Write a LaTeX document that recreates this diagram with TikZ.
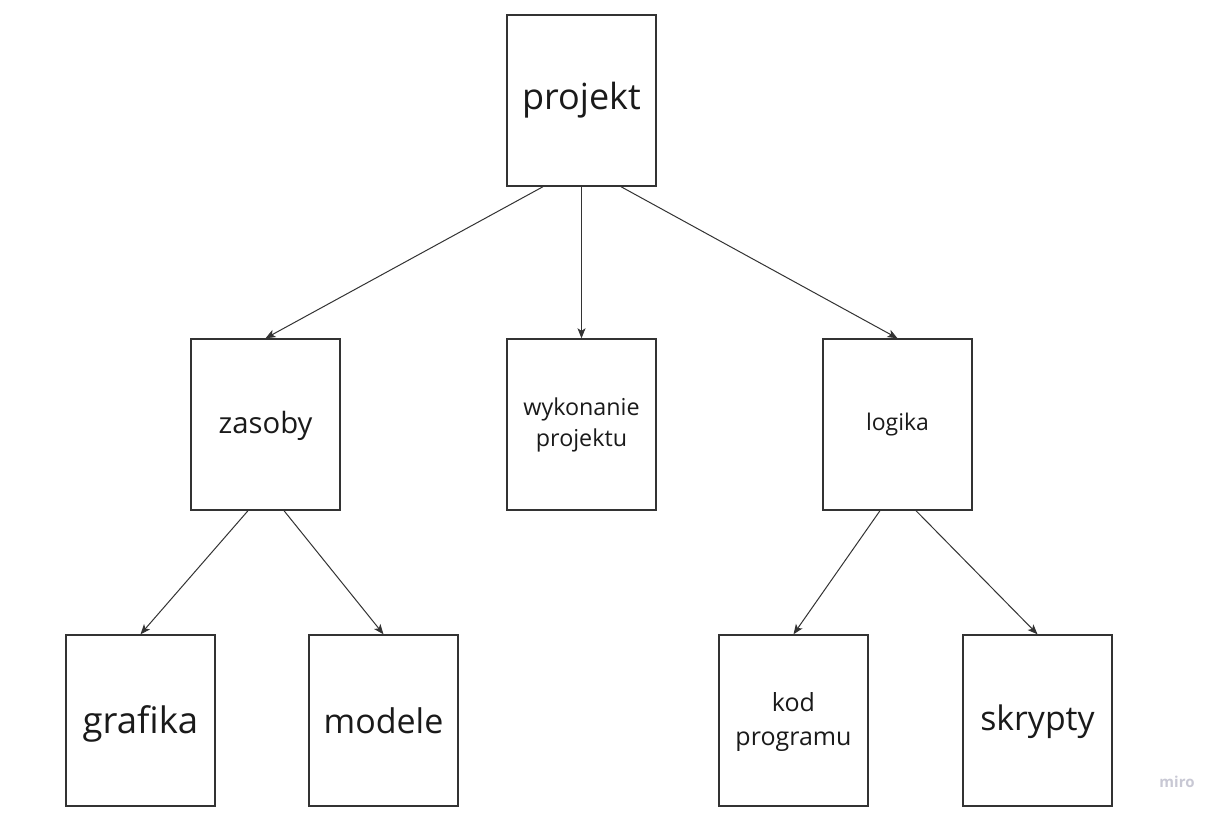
\documentclass[tikz,border=0pt]{standalone}
\usepackage{fontspec}
\setmainfont{Open Sans}
\usetikzlibrary{arrows.meta}
\definecolor{boxline}{HTML}{333333}
\definecolor{txt}{HTML}{1A1A1A}
\definecolor{wm}{HTML}{C8C8D4}
\begin{document}
\begin{tikzpicture}[x=1pt,y=-1pt,
  box/.style={draw=boxline,line width=1.4pt,rectangle,minimum width=149pt,minimum height=171pt,inner sep=0pt,align=center,text=txt},
  base/.style={text height=#1,text depth=0pt},
  fs/.style 2 args={font=\fontsize{#1}{#2}\selectfont},
  conn/.style={draw=boxline,line width=1pt,-{Stealth[length=10pt,width=8pt,inset=2.5pt]}}]
\useasboundingbox (0,0) rectangle (1224,816);
\fill[white] (0,0) rectangle (1224,816);
\node[box,fs={36}{40},base=19pt] (p) at (581.5,100.5) {projekt};
\node[box,fs={29.3}{34},base=17pt] (z) at (265.5,424.5) {zasoby};
\node[box,fs={23.3}{31}] (w) at (581.5,424.5) {wykonanie\\projektu};
\node[box,fs={23}{31}] (l) at (897.5,424.5) {logika};
\node[box,fs={36.5}{40},base=25pt] (g) at (140.5,720.5) {grafika};
\node[box,fs={34}{40},base=25pt] (m) at (383.5,720.5) {modele};
\node[box,fs={25}{34},text depth=4pt] (k) at (793.5,720.5) {kod\\programu};
\node[box,fs={33.8}{40},base=19pt] (s) at (1037.5,720.5) {skrypty};
\node[text=wm,font=\fontsize{15}{18}\selectfont\bfseries] (miro) at (1177,782) {miro};
\draw[conn] ([xshift=-38.5pt]p.south) -- (z.north);
\draw[conn] (p.south) -- (w.north);
\draw[conn] ([xshift=39.5pt]p.south) -- (l.north);
\draw[conn] ([xshift=-17.5pt]z.south) -- (g.north);
\draw[conn] ([xshift=18.5pt]z.south) -- (m.north);
\draw[conn] ([xshift=-17.5pt]l.south) -- (k.north);
\draw[conn] ([xshift=18.5pt]l.south) -- (s.north);
\end{tikzpicture}
\end{document}
